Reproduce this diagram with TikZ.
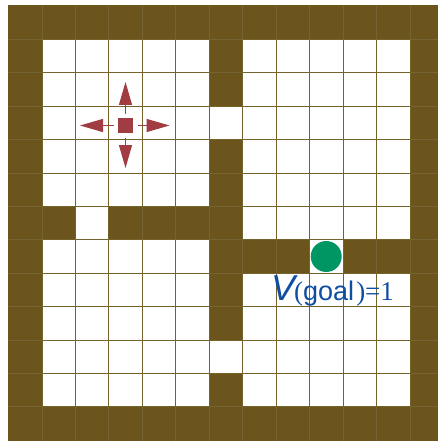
\documentclass[tikz,border=0pt]{standalone}
\usepackage{fontspec}
\setmainfont{Liberation Serif}
\setsansfont{Liberation Sans}
\usetikzlibrary{arrows.meta}
\definecolor{wall}{HTML}{6B551C}
\definecolor{wallline}{HTML}{766534}
\definecolor{gridline}{HTML}{75632C}
\definecolor{agentred}{HTML}{A03C42}
\definecolor{goalgreen}{HTML}{009664}
\definecolor{labelblue}{HTML}{0F4EA3}
\tikzset{
  x=1pt,y=-1pt,
  freecell/.style={fill=white,draw=gridline,line width=1pt},
  agentbox/.style={fill=agentred,minimum size=15pt,inner sep=0pt,outer sep=0pt},
  movearrow/.style={draw=agentred,line width=1.2pt,shorten <=4.5pt,-{Triangle[length=23pt,width=13pt]}},
  goaldot/.style={fill=goalgreen,circle,minimum size=31pt,inner sep=0pt},
  valuelabel/.style={text=labelblue,inner sep=0pt,anchor=base west}
}
\newcommand{\px}[1]{\fpeval{8.6+33.45*(#1)}}
\newcommand{\py}[1]{\fpeval{6+33.4*(#1)}}
\begin{document}
\begin{tikzpicture}
\useasboundingbox (0,0) rectangle (438,441);
\fill[wall] (8,5) rectangle (438,441);
% lines across the walls
\foreach \i in {1,...,12}{
  \draw[wallline,line width=1pt] (\px{\i},5) -- (\px{\i},441);
  \draw[wallline,line width=1pt] (8,\py{\i}) -- (438,\py{\i});
}
% open cells: col/row
\foreach \c in {1,...,5}{
  \foreach \r in {1,...,5,7,8,9,10,11}{
    \draw[freecell] (\px{\c},\py{\r}) rectangle (\px{\c+1},\py{\r+1});
  }
}
\foreach \c in {7,...,11}{
  \foreach \r in {1,...,6,8,9,10,11}{
    \draw[freecell] (\px{\c},\py{\r}) rectangle (\px{\c+1},\py{\r+1});
  }
}
\draw[freecell] (\px{2},\py{6}) rectangle (\px{3},\py{7});
\draw[freecell] (\px{6},\py{3}) rectangle (\px{7},\py{4});
\draw[freecell] (\px{6},\py{10}) rectangle (\px{7},\py{11});
\draw[freecell] (\px{9},\py{7}) rectangle (\px{10},\py{8});
% agent
\node[agentbox] (agent) at (125.5,125.5) {};
\coordinate (up) at (125.5,82);
\coordinate (down) at (125.5,168);
\coordinate (left) at (80,125.5);
\coordinate (right) at (169.5,125.5);
\draw[movearrow] (agent.north) -- (up);
\draw[movearrow] (agent.south) -- (down);
\draw[movearrow] (agent.west) -- (left);
\draw[movearrow] (agent.east) -- (right);
% goal
\node[goaldot] (goal) at (326.2,256.5) {};
\node[valuelabel] (value) at (271,300) {\sffamily{\fontsize{36}{36}\selectfont\itshape V}\hspace{-1pt}{\fontsize{27}{27}\selectfont\rmfamily(\sffamily goal\hspace{2pt}\rmfamily)=1}};
\end{tikzpicture}
\end{document}
